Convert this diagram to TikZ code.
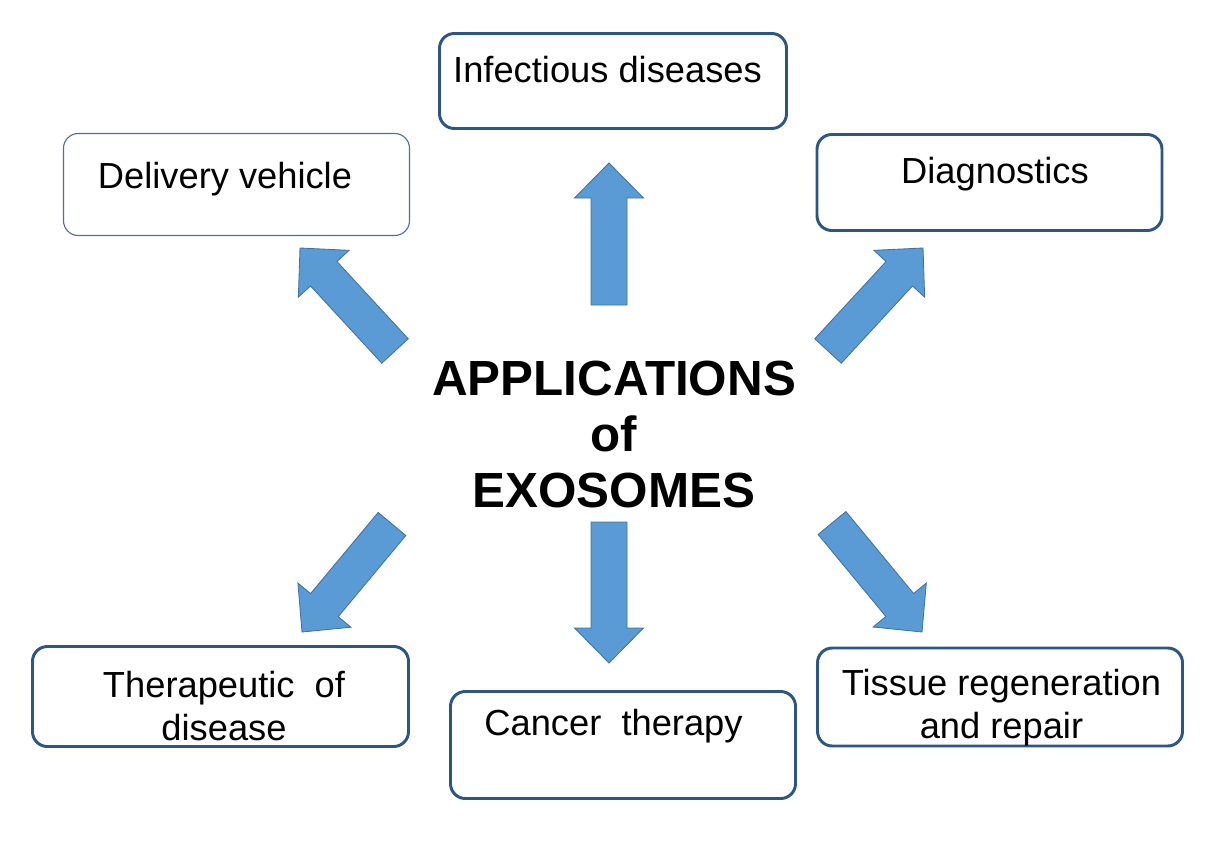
\documentclass[tikz,border=0pt]{standalone}
\usepackage{fontspec}
\setmainfont{Liberation Sans}
\usetikzlibrary{calc}
\definecolor{boxline}{RGB}{44,86,134}
\definecolor{thinline}{RGB}{80,110,150}
\definecolor{arrowfill}{RGB}{91,155,213}
\definecolor{arrowedge}{RGB}{65,113,156}
\tikzset{
  appbox/.style = {rectangle, draw=boxline, line width=2.1pt, rounded corners=0.37cm, inner sep=0pt},
  thinbox/.style = {appbox, draw=thinline, line width=0.8pt},
  boxtext/.style = {align=center, inner sep=0pt, anchor=base, font=\fontsize{25.8}{30}\selectfont},
  title/.style = {align=center, inner sep=0pt, anchor=base, font=\fontsize{35.1}{39.8}\selectfont\bfseries},
  blockarrow/.style = {draw=arrowedge, fill=arrowfill, line width=0.6pt, line join=miter,
    to path={
      ($(\tikztostart)!0.45cm!90:(\tikztotarget)$)
      -- ($($(\tikztotarget)!0.875cm!(\tikztostart)$)!0.45cm!90:(\tikztotarget)$)
      -- ($($(\tikztotarget)!0.875cm!(\tikztostart)$)!0.8625cm!90:(\tikztotarget)$)
      -- (\tikztotarget)
      -- ($($(\tikztotarget)!0.875cm!(\tikztostart)$)!0.8625cm!-90:(\tikztotarget)$)
      -- ($($(\tikztotarget)!0.875cm!(\tikztostart)$)!0.45cm!-90:(\tikztotarget)$)
      -- ($(\tikztostart)!0.45cm!-90:(\tikztotarget)$)
      -- cycle}}
}
\begin{document}
\begin{tikzpicture}[x=0.025cm, y=-0.025cm]
\useasboundingbox (0,0) rectangle (1222,842);

% boxes
\node[appbox, minimum width=347*0.025cm, minimum height=95*0.025cm] (infbox) at (613,81) {};
\node[thinbox, minimum width=346*0.025cm, minimum height=102*0.025cm] (delbox) at (236.5,184.5) {};
\node[appbox, minimum width=345*0.025cm, minimum height=96*0.025cm] (diabox) at (989.5,182.5) {};
\node[appbox, minimum width=376*0.025cm, minimum height=100*0.025cm] (thebox) at (220.5,696.5) {};
\node[appbox, minimum width=345*0.025cm, minimum height=107*0.025cm] (canbox) at (623,745) {};
\node[appbox, minimum width=365*0.025cm, minimum height=98*0.025cm] (tisbox) at (1000,697) {};

% texts (base = last line)
\node[boxtext] (inf) at (607.5,82) {Infectious diseases};
\node[boxtext] (del) at (225,188) {Delivery vehicle};
\node[boxtext] (dia) at (995,183) {Diagnostics};
\node[boxtext] (the) at (224,740) {Therapeutic\ \ of\\disease};
\node[boxtext] (can) at (613.5,735) {Cancer\ \ therapy};
\node[boxtext] (tis) at (1001.5,738) {Tissue regeneration\\and repair};
\node[title] (apps) at (614,507) {APPLICATIONS\\of\\EXOSOMES};

% arrow ends
\coordinate (up-tail) at (609,305);
\coordinate (up-tip) at (609,163);
\coordinate (down-tail) at (609,522);
\coordinate (down-tip) at (609,663);
\coordinate (nw-tail) at (395,351);
\coordinate (nw-tip) at (300,248);
\coordinate (ne-tail) at (828,351);
\coordinate (ne-tip) at (923,248);
\coordinate (sw-tail) at (392,524);
\coordinate (sw-tip) at (302,632);
\coordinate (se-tail) at (832,523);
\coordinate (se-tip) at (922,632);

\draw[blockarrow] (up-tail) to (up-tip);
\draw[blockarrow] (down-tail) to (down-tip);
\draw[blockarrow] (nw-tail) to (nw-tip);
\draw[blockarrow] (ne-tail) to (ne-tip);
\draw[blockarrow] (sw-tail) to (sw-tip);
\draw[blockarrow] (se-tail) to (se-tip);

\end{tikzpicture}
\end{document}
